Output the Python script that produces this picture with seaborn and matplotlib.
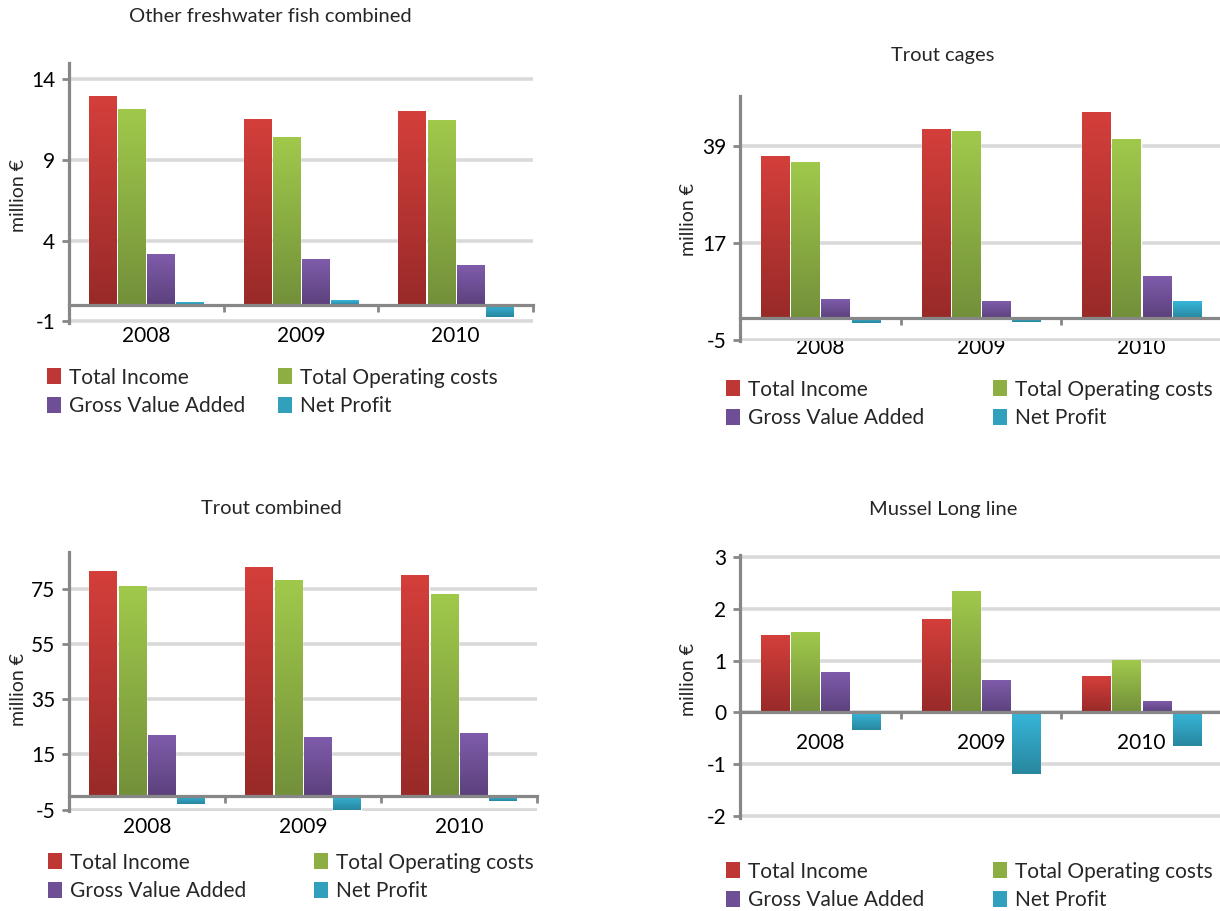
import numpy as np
import pandas as pd
import seaborn as sns
import matplotlib.pyplot as plt
from matplotlib.colors import LinearSegmentedColormap
from matplotlib.patches import Patch

# --- Data (million €) ---
years = ['2008', '2009', '2010']
series = ['Total Income', 'Total Operating costs', 'Gross Value Added', 'Net Profit']

# Other freshwater fish combined
fw_income = [12.9, 11.5, 12.0]
fw_costs = [12.1, 10.4, 11.4]
fw_gva = [3.1, 2.8, 2.45]
fw_profit = [0.15, 0.3, -0.75]

# Trout cages
tc_income = [36.7, 42.8, 46.6]
tc_costs = [35.4, 42.3, 40.5]
tc_gva = [4.3, 3.8, 9.5]
tc_profit = [-1.3, -1.1, 3.8]

# Trout combined
tr_income = [81.4, 82.8, 79.9]
tr_costs = [76.0, 78.1, 73.0]
tr_gva = [22.0, 21.3, 22.8]
tr_profit = [-3.1, -5.3, -1.7]

# Mussel Long line
ms_income = [1.48, 1.78, 0.68]
ms_costs = [1.52, 2.31, 1.0]
ms_gva = [0.76, 0.61, 0.21]
ms_profit = [-0.33, -1.18, -0.64]

# --- Style ---
top_cols = ['#d43f3b', '#a0c94b', '#7f5cab', '#38b6d9']
bot_cols = ['#982a28', '#73903a', '#5c417d', '#28879f']
mid_cols = ['#bf3734', '#8cae43', '#6e4f95', '#31a0bd']
SPINE = '#878787'
GRID = '#d9d9d9'
W, H = 1220, 911

sns.set_theme(style='white')
plt.rcParams['font.family'] = ['Lato', 'DejaVu Sans']
plt.rcParams['axes.unicode_minus'] = False

fig = plt.figure(figsize=(W / 100, H / 100), dpi=100)


def make_df(income, costs, gva, profit):
    rows = []
    for name, vals in zip(series, [income, costs, gva, profit]):
        for y, v in zip(years, vals):
            rows.append({'year': y, 'series': name, 'value': v})
    return pd.DataFrame(rows)


def draw_panel(df, title, box, ylim, yticks, title_xy, ylab_xy, leg_xy, leg2_x):
    l, t, r, b = box
    ax = fig.add_axes([l / W, 1 - b / H, (r - l) / W, (b - t) / H])
    sns.barplot(data=df, x='year', y='value', hue='series', hue_order=series,
                palette=mid_cols, saturation=1, width=0.753, gap=0.07,
                legend=False, ax=ax, zorder=1)

    # vertical gradient on every bar
    grad = np.linspace(0, 1, 128).reshape(-1, 1)
    for i, cont in enumerate(ax.containers):
        cmap = LinearSegmentedColormap.from_list('g%d' % i, [bot_cols[i], top_cols[i]])
        for p in cont.patches:
            x0, y0, w, h = p.get_x(), p.get_y(), p.get_width(), p.get_height()
            ax.imshow(grad, extent=[x0, x0 + w, min(y0, y0 + h), max(y0, y0 + h)],
                      origin='lower', cmap=cmap, aspect='auto', zorder=1.5,
                      interpolation='bilinear')

    ax.set_xlim(-0.5, 2.5)
    ax.set_ylim(*ylim)
    ax.set_yticks(yticks)
    ax.set_xlabel('')
    ax.set_ylabel('')

    ax.set_xticks([-0.5, 0.5, 1.5, 2.5])
    ax.set_xticklabels([])
    ax.set_xticks([0, 1, 2], minor=True)
    ax.set_xticklabels(years, minor=True)

    for s in ['top', 'right']:
        ax.spines[s].set_visible(False)
    for s in ['left', 'bottom']:
        ax.spines[s].set_color(SPINE)
        ax.spines[s].set_linewidth(2.3)
        ax.spines[s].set_zorder(3)
    ax.spines['bottom'].set_position(('data', 0))

    ax.yaxis.grid(True, color=GRID, lw=2.6)
    ax.set_axisbelow(True)
    ax.tick_params(axis='x', which='major', length=5, width=2, color=SPINE, direction='out', bottom=True)
    ax.tick_params(axis='x', which='minor', length=0, pad=15, labelsize=15, labelcolor='black', bottom=True)
    ax.tick_params(axis='y', length=5, width=2, color=SPINE, direction='out', pad=5,
                   labelsize=15, labelcolor='black', left=True)

    fig.text(title_xy[0] / W, 1 - title_xy[1] / H, title, ha='center', va='center', fontsize=14.5)
    fig.text(ylab_xy[0] / W, 1 - ylab_xy[1] / H, 'million €', rotation=90,
             ha='center', va='center', fontsize=14)

    handles = [Patch(facecolor=c, edgecolor='none') for c in mid_cols]
    for cols, lx in [((0, 2), leg_xy[0]), ((1, 3), leg2_x)]:
        fig.legend([handles[k] for k in cols], [series[k] for k in cols],
                   loc='center left', bbox_to_anchor=(lx / W, 1 - leg_xy[1] / H),
                   frameon=False, fontsize=15, handlelength=0.65, handleheight=0.8,
                   handletextpad=0.4, labelspacing=0.42, borderpad=0, borderaxespad=0)
    return ax


draw_panel(make_df(fw_income, fw_costs, fw_gva, fw_profit), 'Other freshwater fish combined',
           (69, 63, 533, 323), (-1.1, 15.0), [-1, 4, 9, 14],
           (270, 16), (18, 196), (47, 392), (278))
draw_panel(make_df(tc_income, tc_costs, tc_gva, tc_profit), 'Trout cages',
           (740, 96, 1222, 341), (-5.3, 50.3), [-5, 17, 39],
           (943, 55), (688, 220), (726, 404), (993))
draw_panel(make_df(tr_income, tr_costs, tr_gva, tr_profit), 'Trout combined',
           (69, 552, 537, 811), (-5.5, 88.3), [-5, 15, 35, 55, 75],
           (271, 509), (18, 690), (48, 877), (314))
draw_panel(make_df(ms_income, ms_costs, ms_gva, ms_profit), 'Mussel Long line',
           (740, 555, 1222, 818), (-2.03, 3.03), [-2, -1, 0, 1, 2, 3],
           (943, 509), (688, 680), (726, 886), (993))

fig.savefig('out.png', dpi=100)
